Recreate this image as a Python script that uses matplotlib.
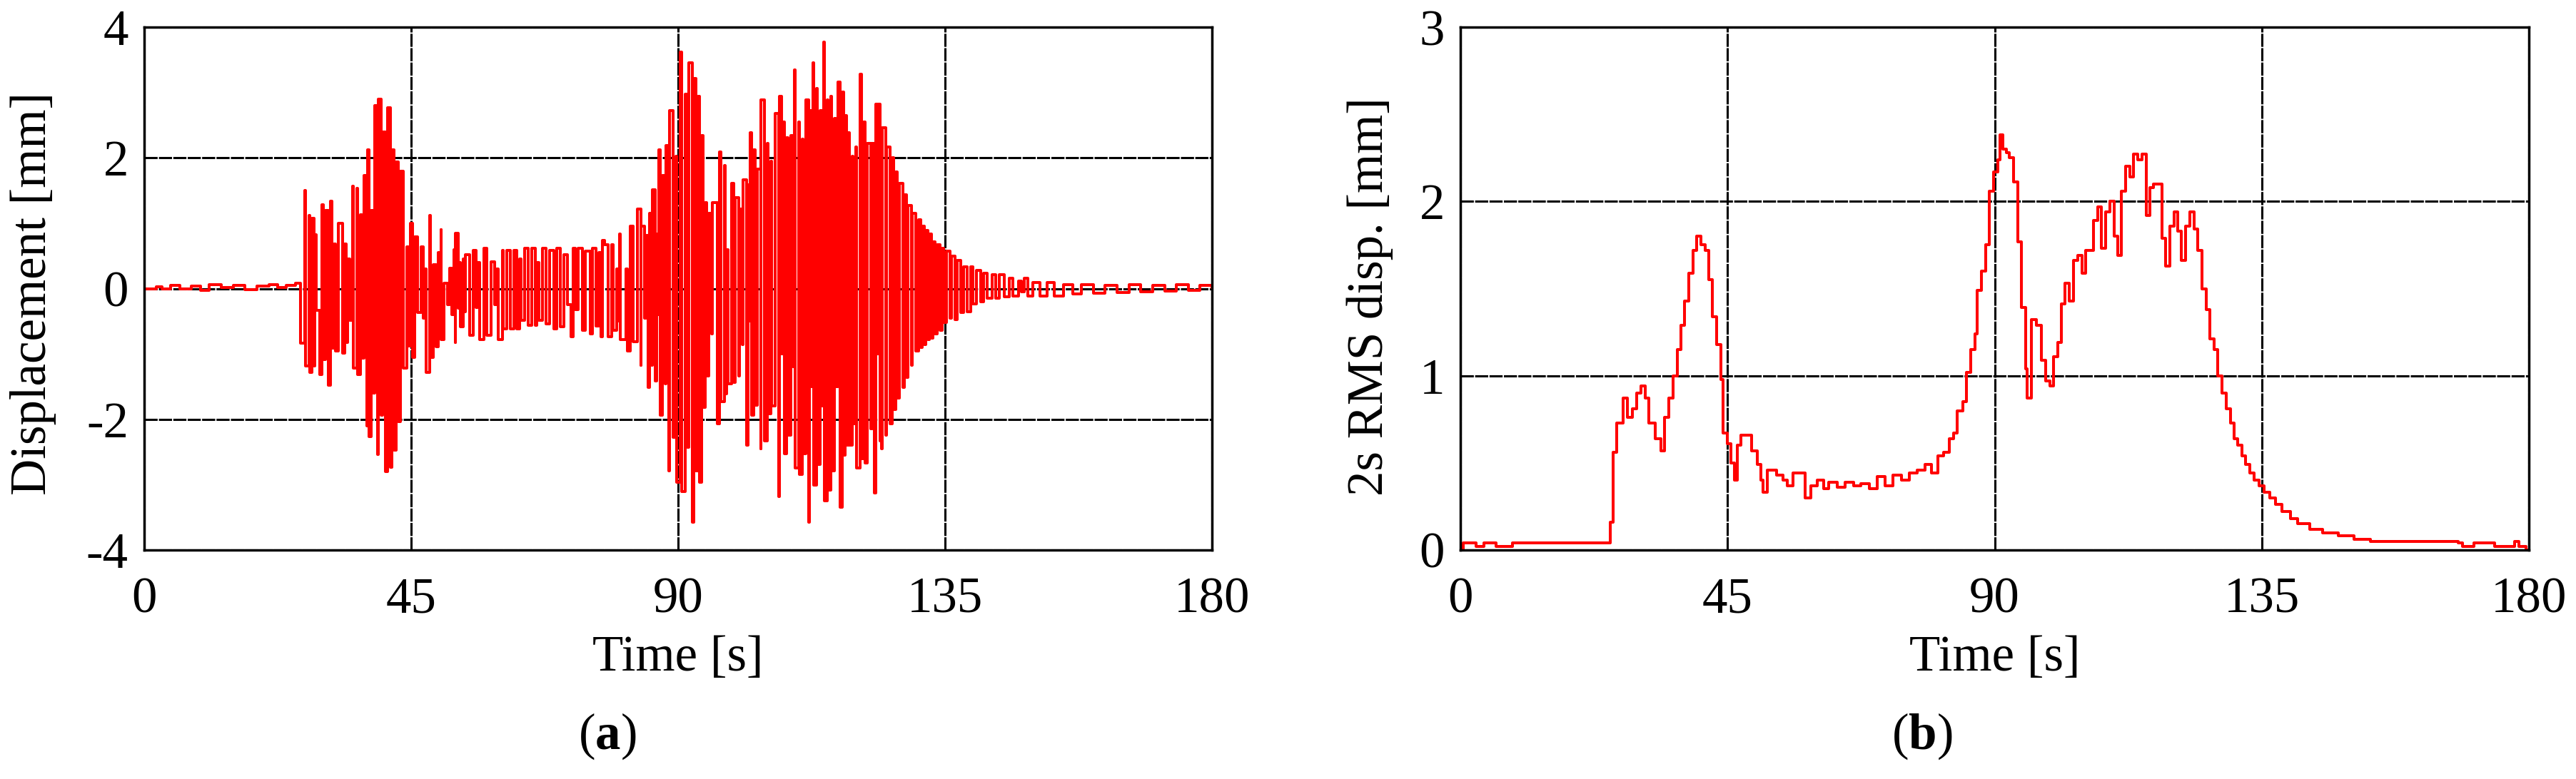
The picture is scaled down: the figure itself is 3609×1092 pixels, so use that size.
import matplotlib
matplotlib.use('Agg')
import matplotlib.pyplot as plt

t_disp = [0, 2, 3, 4.5, 6, 8, 9.5, 11, 13, 15, 17, 19, 21, 22.5, 24, 25.5,
          26.4, 27.1, 27.2, 27.75, 27.9, 28.3, 28.6, 28.8, 29.0, 29.6, 29.9, 30.2,
          30.6, 31.0, 31.4, 31.6, 32.0, 32.2, 32.7, 33.4, 33.8, 34.0, 34.3, 34.6,
          35.1, 35.3, 35.8, 36.0, 36.5, 36.7, 37.1, 37.5, 37.7, 37.9, 38.3, 38.6,
          38.9, 39.3, 39.5, 40.0, 40.2, 40.7, 41.0, 41.5, 41.8, 42.1, 42.5, 42.8,
          43.2, 43.7, 44.3, 44.5, 44.9, 45.3, 45.6, 46.1, 46.7, 47.1, 47.3, 47.5,
          48.1, 48.3, 48.7, 49.2, 49.6, 49.8, 50.0, 50.1, 50.5, 51.1, 51.5, 51.9,
          52.2, 52.4, 52.5, 52.9, 53.1, 53.3, 53.8, 54.0, 54.2, 54.9, 55.5, 55.9,
          56.2, 56.6, 57.3, 57.8, 58.5, 59.1, 59.4, 59.7, 60.4, 60.5, 61.1, 61.7,
          62.3, 62.8, 63.3, 63.5, 64.1, 64.7, 65.3, 65.9, 66.2, 66.5, 67.1, 67.7,
          68.3, 69.1, 69.5, 70.1, 70.8, 71.4, 71.95, 72.35, 72.7, 73.2, 73.9, 74.4,
          75.2, 75.6, 76.2, 76.6, 77.0, 77.2, 77.6, 78.2, 78.8, 79.0, 79.6, 80.0,
          80.1, 80.2, 81.2, 81.4, 81.9, 82.4, 83.1, 83.7, 83.8, 84.3, 84.6, 85.0,
          85.2, 85.6, 85.7, 86.2, 86.4, 86.6, 86.8, 87.0, 87.4, 87.8, 88.0, 88.4,
          88.6, 89.2, 89.6, 89.8, 90.4, 90.6, 91.2, 91.6, 91.8, 92.4, 92.6, 93.0,
          93.4, 93.6, 94.0, 94.2, 94.6, 94.8, 95.2, 95.6, 95.8, 96.6, 97.0, 97.2,
          97.8, 98.0, 98.2, 98.4, 99.0, 99.4, 99.6, 100.2, 100.4, 100.8, 100.9, 101.6,
          101.8, 102.0, 102.2, 102.4, 102.8, 103.0, 103.4, 103.9, 104.0, 104.6, 105.0, 105.2,
          105.6, 105.8, 106.4, 107.0, 107.1, 107.5, 107.7, 107.9, 108.3, 108.5, 109.0, 109.4,
          109.6, 109.7, 110.3, 110.5, 110.9, 111.1, 111.5, 112.0, 112.1, 112.5, 112.7, 112.9,
          113.3, 113.5, 113.9, 114.3, 114.5, 114.7, 115.1, 115.3, 115.7, 115.9, 116.3, 116.6,
          116.9, 117.3, 117.7, 117.9, 118.1, 118.4, 118.6, 118.9, 119.3, 119.5, 120.0, 120.1,
          120.7, 120.9, 121.3, 121.5, 121.9, 122.5, 122.7, 123.1, 123.3, 123.6, 123.8, 124.1,
          124.2, 124.3, 124.4, 125.0, 125.1, 125.7, 126.1, 126.3, 126.7, 126.9, 127.3, 127.9,
          128.1, 128.5, 128.7, 129.3, 129.5, 130.1, 130.5, 130.9, 131.1, 131.5, 131.7, 132.1,
          132.3, 132.7, 132.9, 133.3, 133.7, 134.1, 134.5, 134.8, 135.3, 135.9, 136.1, 136.7,
          137.1, 137.7, 138.1, 138.7, 139.3, 139.7, 140.3, 141.0, 141.5, 142.1, 143.0, 143.6,
          144.2, 145.0, 145.8, 146.4, 147.4, 147.9, 148.4, 149.0, 149.8, 151.0, 152.2, 153.4,
          155, 156.5, 158, 160, 162, 164, 166, 168, 170, 172, 174, 176, 178, 180]
d_disp = [0.0, 0.03, 0.0, 0.05, 0.0, 0.04, -0.03, 0.06, 0.02, 0.05, -0.02, 0.04, 0.06, 0.02, 0.05, 0.08,
          -0.84, 1.50, -1.18, 1.12, -1.28, 1.07, -1.18, 0.82, -0.33, -1.32, 1.28, -1.09,
          1.20, -1.48, 1.34, -0.91, 0.68, -0.95, 1.00, -0.99, 0.68, -0.82, 0.45, -0.49,
          1.57, -1.22, 1.53, -1.32, 1.13, -1.06, 1.73, -2.10, 2.12, -2.27, 1.20, -1.60,
          2.80, -2.54, 2.90, -1.94, 2.40, -2.80, 2.77, -2.73, 2.12, -2.47, 1.94, -2.04,
          1.80, -1.22, 0.64, -0.88, 1.00, -1.05, 0.79, -0.37, 0.64, -0.45, 0.30, -1.28,
          1.12, -1.05, 0.37, -0.89, 0.55, -0.30, 0.90, -0.78, 0.08, -0.25, 0.31, -0.40,
          0.60, -0.82, 0.85, -0.30, 0.40, -0.58, 0.45, -0.35, 0.52, -0.72, 0.58, -0.29,
          0.40, -0.78, 0.62, -0.72, 0.41, -0.25, 0.30, -0.78, 0.58, -0.62, 0.58, -0.62,
          0.58, -0.62, 0.45, -0.49, 0.62, -0.56, 0.62, -0.56, 0.40, -0.49, 0.62, -0.54,
          0.58, -0.62, 0.62, -0.58, 0.52, -0.25, -0.74, 0.62, -0.32, 0.62, -0.64, 0.57,
          -0.69, 0.62, -0.57, 0.55, -0.74, 0.74, 0.67, -0.74, 0.67, -0.64, 0.30, -0.50,
          0.84, -0.78, 0.30, -0.95, 0.96, -0.81, 1.22, -1.17, 0.95, -0.45, 0.81, -1.51,
          1.15, -1.17, 1.51, -1.41, 0.84, -0.40, 2.12, -1.94, 1.73, -1.46, 2.19, -2.79,
          2.72, -2.28, 2.02, -2.96, 3.62, -3.11, 2.97, -2.43, 3.45, -3.57, 3.21, -2.79,
          2.94, -2.96, 2.34, -1.82, 1.32, -1.34, 1.15, -0.69, 1.32, -2.07, 2.09, -1.73,
          1.88, -1.61, 0.60, -1.46, 1.61, -1.44, 1.39, -1.34, 1.22, -0.86, 1.66, -2.40,
          1.59, -0.50, 2.39, -1.94, 2.12, -1.78, 1.83, -2.45, 2.89, -2.33, 2.22, -1.92,
          1.95, -1.80, 2.68, -3.18, 2.94, -1.00, 2.55, -2.53, 2.31, -2.24, 2.34, -1.20,
          3.34, -2.74, 2.55, -2.84, 2.29, -2.53, 2.89, -3.57, 2.72, -1.50, 3.45, -3.01,
          3.06, -2.69, 2.72, -1.80, 3.77, -3.25, 2.89, -3.08, 2.94, -2.79, 2.60, -1.50,
          3.16, -3.35, 3.01, -2.55, 2.65, -2.40, 2.39, -2.40, 2.02, -2.07, 2.17, -2.74,
          3.28, -2.60, 2.55, -2.67, 2.22, -2.14, 2.22, -3.13, 2.82, -1.00, 2.82, -2.33,
          1.20, -2.45, 2.46, -2.24, 2.17, -2.07, 2.00, -1.85, 1.78, -1.68, 1.61, -1.51,
          1.44, -1.36, 1.27, -1.17, 1.15, -0.95, 1.05, -0.90, 0.96, -0.86, 0.89, -0.78,
          0.84, -0.76, 0.72, -0.69, 0.67, -0.64, 0.62, -0.52, 0.57, -0.45, 0.50, -0.47,
          0.43, -0.37, 0.33, -0.35, 0.33, -0.23, 0.28, -0.20, 0.23, -0.15, 0.21, -0.15,
          0.21, -0.13, 0.16, -0.11, 0.11, -0.05, 0.16, -0.11, 0.09, -0.11, 0.09, -0.11,
          0.06, -0.08, 0.06, -0.07, 0.05, -0.06, 0.06, -0.05, 0.05, -0.04, 0.06, -0.03, 0.05, 0.02]

# (b) RMS de 2 s
t_rms = [0, 0.5, 2.0, 2.7, 4.0, 6.0, 8.8, 25.0, 25.3, 25.7, 26.3, 27.4, 28.1, 29.0,
         29.7, 30.4, 31.1, 31.7, 32.8, 33.8, 34.4, 35.1, 35.8, 36.5, 37.1, 37.8,
         38.5, 39.2, 39.8, 40.5, 41.2, 41.9, 42.5, 43.2, 43.9, 44.3, 45.0, 45.6,
         46.2, 46.6, 47.3, 48.2, 49.0, 50.0, 50.6, 51.0, 51.7, 52.7, 53.3, 54.4,
         55.1, 56.0, 57.1, 58.1, 59.0, 60.1, 61.2, 62.1, 63.5, 64.8, 66.2, 67.5,
         68.9, 70.2, 71.6, 72.9, 74.3, 75.6, 77.0, 78.3, 79.3, 80.4, 81.4, 82.4,
         83.1, 83.7, 84.7, 85.3, 86.0, 86.7, 87.1, 87.8, 88.5, 89.1, 89.8, 90.5,
         90.9, 91.4, 92.0, 92.5, 93.2, 93.9, 94.5, 95.2, 95.5, 96.2, 97.0, 97.9,
         98.6, 99.3, 99.9, 100.6, 101.3, 101.9, 102.6, 103.3, 104.0, 104.7, 105.3, 106.0,
         106.7, 107.4, 108.0, 108.7, 109.4, 110.1, 110.7, 111.4, 112.1, 112.8, 113.4, 114.1,
         114.8, 115.5, 116.1, 116.8, 117.5, 118.2, 118.8, 119.5, 120.2, 120.9, 121.5, 122.2,
         122.9, 123.6, 124.2, 124.9, 125.6, 126.3, 127.0, 127.6, 128.3, 129.0, 129.7, 130.4,
         131.0, 131.7, 132.3, 133.0, 133.7, 134.6, 135.4, 136.4, 137.3, 138.4, 139.8, 141.1,
         143.1, 145.2, 147.9, 150.6, 153.3, 168.1, 168.8, 170.8, 174.2, 177.6, 178.3, 179.5, 180]
v_rms = [0.0, 0.04, 0.04, 0.02, 0.04, 0.02, 0.04, 0.04, 0.16, 0.56, 0.73, 0.87, 0.76, 0.81,
         0.90, 0.94, 0.87, 0.73, 0.64, 0.57, 0.76, 0.87, 1.00, 1.15, 1.29, 1.43,
         1.59, 1.72, 1.80, 1.75, 1.72, 1.55, 1.34, 1.18, 0.98, 0.67, 0.61, 0.50,
         0.40, 0.60, 0.66, 0.66, 0.57, 0.49, 0.40, 0.33, 0.46, 0.46, 0.43, 0.40,
         0.37, 0.44, 0.44, 0.30, 0.37, 0.40, 0.35, 0.39, 0.36, 0.39, 0.37, 0.38,
         0.35, 0.42, 0.37, 0.43, 0.40, 0.44, 0.46, 0.49, 0.44, 0.54, 0.56, 0.64,
         0.67, 0.80, 0.85, 1.02, 1.15, 1.24, 1.49, 1.60, 1.75, 2.06, 2.17, 2.24,
         2.38, 2.30, 2.28, 2.25, 2.11, 1.77, 1.39, 1.04, 0.87, 1.32, 1.29, 1.09,
         0.97, 0.94, 1.11, 1.19, 1.41, 1.53, 1.43, 1.66, 1.69, 1.59, 1.72, 1.72,
         1.89, 1.97, 1.73, 1.94, 2.00, 1.80, 1.69, 2.06, 2.20, 2.14, 2.27, 2.24,
         2.27, 1.92, 2.08, 2.10, 2.10, 1.79, 1.63, 1.86, 1.94, 1.83, 1.66, 1.86,
         1.94, 1.84, 1.72, 1.50, 1.38, 1.21, 1.15, 1.00, 0.90, 0.81, 0.73, 0.64,
         0.60, 0.54, 0.49, 0.44, 0.40, 0.37, 0.33, 0.30, 0.26, 0.22, 0.18, 0.15,
         0.12, 0.10, 0.08, 0.06, 0.05, 0.04, 0.02, 0.04, 0.02, 0.05, 0.02, 0.0, 0.0]

x_ticks = [0, 45, 90, 135, 180]
panel_tags = ['a', 'b']

plt.rcParams['font.family'] = ['Liberation Serif', 'DejaVu Serif']
plt.rcParams['font.size'] = 51
plt.rcParams['axes.unicode_minus'] = False
plt.rcParams['mathtext.fontset'] = 'custom'
plt.rcParams['mathtext.rm'] = 'Liberation Serif'
plt.rcParams['mathtext.bf'] = 'Liberation Serif:bold'

fig = plt.figure(figsize=(36.09, 10.92), dpi=100)
W, H = 3609.0, 1092.0
ax1 = fig.add_axes([202 / W, 1 - 771 / H, 1496 / W, 733 / H])
ax2 = fig.add_axes([2046 / W, 1 - 771 / H, 1497 / W, 733 / H])

ax1.plot(t_disp, d_disp, color='#ff0000', lw=2.9, drawstyle='steps-post')
ax2.plot(t_rms, v_rms, color='#ff0000', lw=2.9, drawstyle='steps-post')

ax1.set_ylim(-4, 4)
ax1.set_yticks([-4, -2, 0, 2, 4])
ax2.set_ylim(0, 3)
ax2.set_yticks([0, 1, 2, 3])

for ax in (ax1, ax2):
    ax.set_xlim(0, 180)
    ax.set_xticks(x_ticks)
    ax.grid(True, color='black', lw=2.2, linestyle=(0, (6, 0.6)))
    ax.set_axisbelow(True)
    for s in ax.spines.values():
        s.set_linewidth(2.5)
    ax.tick_params(axis='x', length=0, pad=27)
    ax.tick_params(axis='y', length=0, pad=16)
    ax.set_xlabel('Time [s]', labelpad=12)

ax1.set_ylabel('Displacement [mm]')
ax1.yaxis.set_label_coords(-0.082, 0.49)
ax2.set_ylabel('2s RMS disp. [mm]')
ax2.yaxis.set_label_coords(-0.063, 0.485)

# etiquetas de subfigura (a) y (b)
for xc, tag in zip((851, 2693), panel_tags):
    fig.text(xc / W, 1 - 1032 / H, '(' + r'$\mathbf{' + tag + '}$' + ')',
             ha='center', va='center')

plt.savefig('out.png', dpi=100)
